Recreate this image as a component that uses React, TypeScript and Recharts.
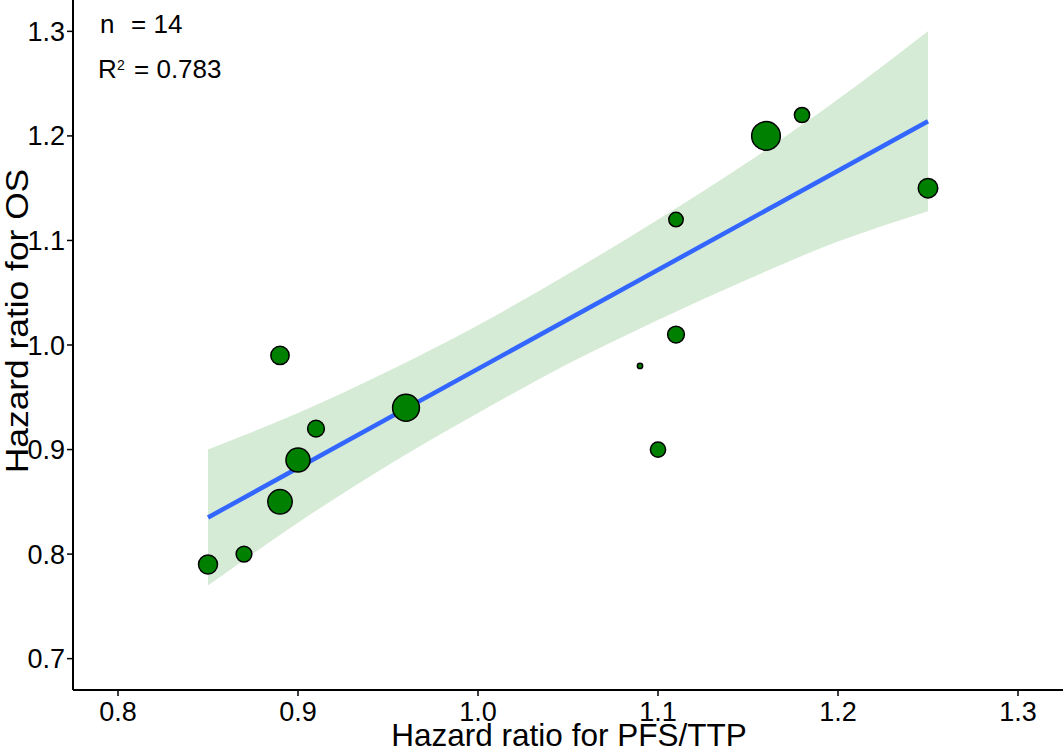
import React from "react";
import {
  ComposedChart,
  XAxis,
  YAxis,
  ZAxis,
  Area,
  Line,
  Scatter,
  Customized,
} from "recharts";

// ---- data ----
const studyX = [0.85, 0.87, 0.89, 0.89, 0.9, 0.91, 0.96, 1.09, 1.1, 1.11, 1.11, 1.16, 1.18, 1.25];
const studyY = [0.79, 0.8, 0.85, 0.99, 0.89, 0.92, 0.94, 0.98, 0.9, 1.01, 1.12, 1.2, 1.22, 1.15];
const studyWeight = [90, 62, 150, 84, 145, 70, 180, 7, 58, 70, 52, 205, 58, 95];

const bandX = [0.85, 0.9, 0.95, 1.0, 1.05, 1.1, 1.15, 1.2, 1.25];
const bandLower = [0.77, 0.83, 0.885, 0.935, 0.982, 1.024, 1.063, 1.099, 1.128];
const bandUpper = [0.9, 0.935, 0.975, 1.019, 1.068, 1.12, 1.175, 1.235, 1.3];

const fitX = [0.85, 1.25];
const fitY = [0.835, 1.214];

const xTicks = [0.8, 0.9, 1.0, 1.1, 1.2, 1.3];
const yTicks = [0.7, 0.8, 0.9, 1.0, 1.1, 1.2, 1.3];

const nStudies = "14";
const r2Value = "0.783";
const xTitle = "Hazard ratio for PFS/TTP";
const yTitle = "Hazard ratio for OS";

// ---- derived tables ----
const points = studyX.map((x, i) => ({ x, y: studyY[i], w: studyWeight[i] }));
const band = bandX.map((x, i) => ({ x, band: [bandLower[i], bandUpper[i]] }));
const fit = fitX.map((x, i) => ({ x, fit: fitY[i] }));

const FONT = "'Liberation Sans', Arial, Helvetica, sans-serif";
const W = 1063;
const H = 755;

const Overlay = () => (
  <g fontFamily={FONT} fill="#000">
    <text x={100} y={33} fontSize={26}>n</text>
    <text x={131} y={33} fontSize={26}>= {nStudies}</text>
    <text x={98} y={78} fontSize={26}>R</text>
    <text x={117} y={70} fontSize={14}>2</text>
    <text x={134} y={78} fontSize={26}>= {r2Value}</text>
    <text x={569} y={746} fontSize={31.5} textAnchor="middle">{xTitle}</text>
    <text
      x={0}
      y={0}
      fontSize={31}
      textAnchor="middle"
      transform={`translate(28, 321) rotate(-90) scale(1.14, 1)`}
    >
      {yTitle}
    </text>
  </g>
);

export default function App() {
  return (
    <div style={{ position: "absolute", left: 0, top: 0, width: W, height: H, background: "#fff" }}>
      <ComposedChart width={W} height={H} margin={{ top: 0, right: 0, bottom: 0, left: 0 }}>
        <XAxis
          type="number"
          dataKey="x"
          domain={[0.775, 1.325]}
          ticks={xTicks}
          allowDataOverflow
          height={65}
          tickFormatter={(v: number) => v.toFixed(1)}
          axisLine={{ stroke: "#000", strokeWidth: 2 }}
          tickLine={{ stroke: "#000", strokeWidth: 1.5 }}
          tickSize={6}
          tickMargin={6}
          tick={{ fill: "#000", fontSize: 27, fontFamily: FONT }}
        />
        <YAxis
          type="number"
          domain={[0.67, 1.33]}
          ticks={yTicks}
          allowDataOverflow
          width={73}
          tickFormatter={(v: number) => v.toFixed(1)}
          axisLine={{ stroke: "#000", strokeWidth: 2 }}
          tickLine={{ stroke: "#000", strokeWidth: 1.5 }}
          tickSize={6}
          tickMargin={2}
          tick={{ fill: "#000", fontSize: 27, fontFamily: FONT }}
        />
        <ZAxis type="number" dataKey="w" domain={[0, 225]} range={[0, 706.86]} />
        <Area
          data={band}
          dataKey="band"
          type="monotone"
          stroke="none"
          fill="#008000"
          fillOpacity={0.16}
          dot={false}
          activeDot={false}
          isAnimationActive={false}
        />
        <Scatter
          data={points}
          dataKey="y"
          shape="circle"
          fill="#008000"
          stroke="#000"
          strokeWidth={1.5}
          isAnimationActive={false}
        />
        <Line
          data={fit}
          dataKey="fit"
          type="linear"
          stroke="#3366FF"
          strokeWidth={4.5}
          dot={false}
          activeDot={false}
          isAnimationActive={false}
        />
        <Customized component={Overlay} />
      </ComposedChart>
    </div>
  );
}
